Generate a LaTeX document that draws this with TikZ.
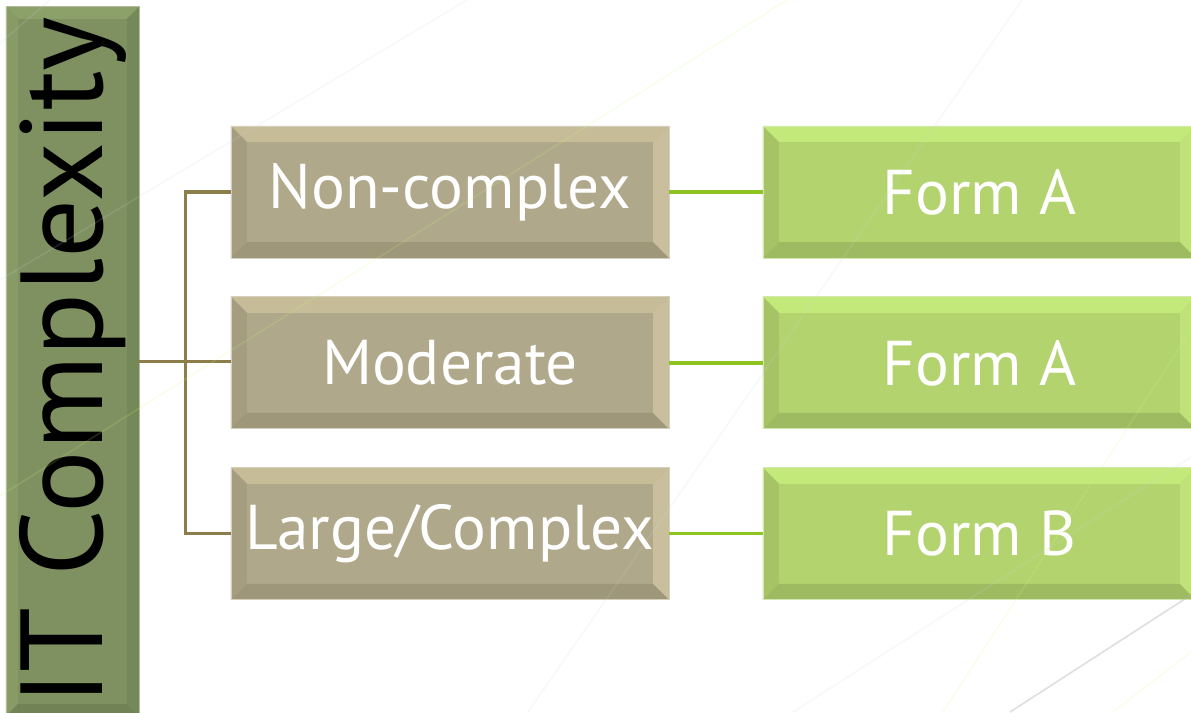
\documentclass[tikz,border=0pt]{standalone}
\usepackage{fontspec}
\setsansfont{PT Sans}
\usetikzlibrary{positioning,calc}
\definecolor{olivebox}{HTML}{7F9161}
\definecolor{olivetop}{HTML}{8CA06A}
\definecolor{oliveleft}{HTML}{889B66}
\definecolor{olivebottom}{HTML}{718354}
\definecolor{oliveright}{HTML}{758858}
\definecolor{tanbox}{HTML}{B0A88A}
\definecolor{tantop}{HTML}{C6BC98}
\definecolor{tanleft}{HTML}{A59D80}
\definecolor{tanbottom}{HTML}{9F9779}
\definecolor{tanright}{HTML}{C9BF9C}
\definecolor{limebox}{HTML}{B3D36F}
\definecolor{limetop}{HTML}{C2E97A}
\definecolor{limeleft}{HTML}{A6C466}
\definecolor{limebottom}{HTML}{9FBB62}
\definecolor{limeright}{HTML}{BFE27A}
\definecolor{tanline}{HTML}{8C7E4B}
\definecolor{limeline}{HTML}{8DC420}
\tikzset{
    bevel size/.store in=\bevelsize,
    bevel size=0.4cm,
    bevelled/.style n args={5}{fill=#1,
        path picture={
            \path (path picture bounding box.north west) coordinate (bnw)
                  (path picture bounding box.north east) coordinate (bne)
                  (path picture bounding box.south west) coordinate (bsw)
                  (path picture bounding box.south east) coordinate (bse);
            \fill[#2] (bnw) -- (bne) -- ([shift={(-\bevelsize,-\bevelsize)}]bne) -- ([shift={(\bevelsize,-\bevelsize)}]bnw) -- cycle;
            \fill[#3] (bnw) -- (bsw) -- ([shift={(\bevelsize,\bevelsize)}]bsw) -- ([shift={(\bevelsize,-\bevelsize)}]bnw) -- cycle;
            \fill[#4] (bsw) -- (bse) -- ([shift={(-\bevelsize,\bevelsize)}]bse) -- ([shift={(\bevelsize,\bevelsize)}]bsw) -- cycle;
            \fill[#5] (bne) -- (bse) -- ([shift={(-\bevelsize,\bevelsize)}]bse) -- ([shift={(-\bevelsize,-\bevelsize)}]bne) -- cycle;
        }},
    title box/.style={bevelled={olivebox}{olivetop}{oliveleft}{olivebottom}{oliveright},
        bevel size=0.3cm, draw=olivebox!60!white, line width=0.6pt,
        minimum width=3.325cm, minimum height=17.725cm, inner sep=0pt,
        font=\sffamily\fontsize{83}{90}\selectfont, text=black},
    level box/.style={bevelled={tanbox}{tantop}{tanleft}{tanbottom}{tanright},
        draw=tanbox!55!white, line width=0.6pt,
        minimum width=10.95cm, minimum height=3.3cm, inner sep=0pt,
        font=\sffamily\fontsize{45}{50}\selectfont, text=white},
    form box/.style={bevelled={limebox}{limetop}{limeleft}{limebottom}{limeright},
        draw=limebox!55!white, line width=0.6pt,
        minimum width=10.825cm, minimum height=3.3cm, inner sep=0pt,
        font=\sffamily\fontsize{45}{50}\selectfont, text=white},
    trunk/.style={tanline, line width=2.4pt},
    branch/.style={limeline, line width=2.4pt},
    bgline/.style={line width=1.2pt, opacity=#1},
    bgline/.default=.15,
}

\begin{document}
\begin{tikzpicture}[x=0.025cm, y=-0.025cm]
    \useasboundingbox[fill=white] (0,0) rectangle (1191,712);
    \clip (0,0) rectangle (1191,712);

    % left column
    \node[title box] (itbox) at (72.5,361.5) {\rotatebox{90}{IT Complexity}};

    % complexity levels
    \node[level box] (noncomplex) at (450,192) {Non-complex};
    \node[level box, below=0.95cm of noncomplex] (moderate) {Moderate};
    \node[level box, below=0.95cm of moderate] (largecomplex) {Large/Complex};

    % forms
    \node[form box, right=2.325cm of noncomplex] (formA1) {Form A};
    \node[form box, right=2.325cm of moderate] (formA2) {Form A};
    \node[form box, right=2.325cm of largecomplex] (formB) {Form B};

    % connectors
    \draw[trunk] (itbox.east) -- ++(46,0) coordinate (fork);
    \draw[trunk] (noncomplex.west) -| (fork) |- (largecomplex.west);
    \draw[trunk] (fork) -- (fork -| moderate.west);
    \foreach \lvl/\frm in {noncomplex/formA1, moderate/formA2, largecomplex/formB}
        \draw[branch] (\lvl.east) -- (\frm.west);

    % faint background strokes
    \draw[bgline, cyan!20!gray!40] (50,0) -- (0,43);
    \draw[bgline, cyan!20!gray!40] (467,0) -- (0,280);
    \draw[bgline, green!40!yellow!50] (787,0) -- (0,496);
    \draw[bgline, cyan!20!gray!40] (1022,0) -- (528,712);
    \draw[bgline, cyan!20!gray!40] (1191,457) -- (793,712);
    \draw[bgline=.4, gray!60] (1191,595) -- (1010,712);
    \draw[bgline, green!40!yellow!50] (1191,330) -- (943,712);
    \draw[bgline, green!40!yellow!50] (1191,652) -- (1113,712);
\end{tikzpicture}
\end{document}
